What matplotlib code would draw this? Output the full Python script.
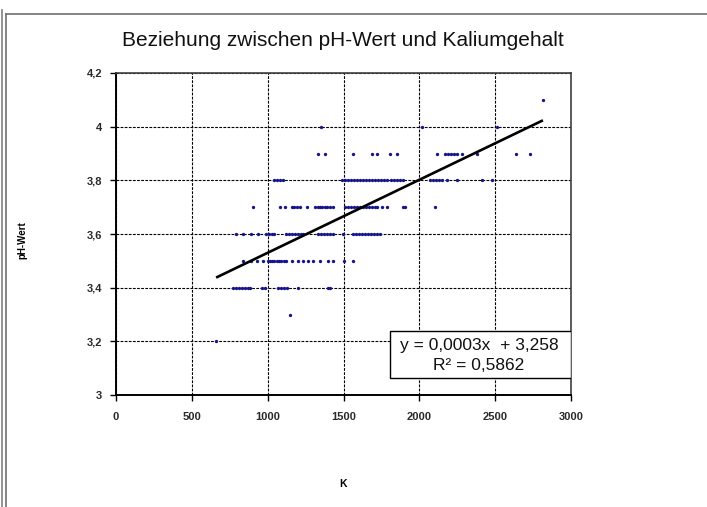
import matplotlib
matplotlib.use("Agg")
import matplotlib.pyplot as plt
from matplotlib.patches import Rectangle
from matplotlib.lines import Line2D
import numpy as np

plt.rcParams['font.family'] = ['Liberation Sans', 'DejaVu Sans']

# Data: K values per pH row
ph_values = [3.2, 3.3, 3.4, 3.5, 3.6, 3.7, 3.8, 3.9, 4.0, 4.1]
k_32 = [660]
k_33 = [1150]
k_34 = [770, 790, 810, 830, 850, 870, 885, 965, 980, 1070, 1090, 1110, 1130, 1200, 1395, 1410]
k_35 = [840, 890, 930, 970, 1000, 1015, 1030, 1045, 1060, 1075, 1090, 1105, 1120, 1160,
        1200, 1235, 1265, 1300, 1345, 1395, 1430, 1500, 1565]
k_36 = [790, 840, 890, 935, 990, 1010, 1030, 1045, 1120, 1140, 1160, 1180, 1200, 1220, 1235,
        1330, 1350, 1370, 1390, 1410, 1430, 1495, 1560, 1580, 1600, 1620, 1640, 1660, 1680,
        1700, 1720, 1740]
k_37 = [905, 1080, 1115, 1160, 1175, 1195, 1215, 1260, 1315, 1330, 1345, 1360, 1375, 1390,
        1410, 1430, 1510, 1530, 1550, 1570, 1590, 1610, 1630, 1650, 1670, 1690, 1705, 1720,
        1755, 1785, 1890, 1905, 2100]
k_38 = [1040, 1060, 1080, 1100, 1490, 1510, 1530, 1550, 1570, 1590, 1610, 1630, 1650, 1670,
        1690, 1710, 1730, 1750, 1770, 1790, 1810, 1830, 1850, 1870, 1890, 2070, 2090, 2110,
        2130, 2150, 2180, 2250, 2410, 2480]
k_39 = [1330, 1380, 1560, 1690, 1720, 1805, 1850, 2115, 2170, 2190, 2210, 2230, 2250, 2280,
        2380, 2640, 2730]
k_40 = [1350, 2020, 2510]
k_41 = [2815]
k_rows = [k_32, k_33, k_34, k_35, k_36, k_37, k_38, k_39, k_40, k_41]

# Trendline (as drawn in the chart)
trend_slope = 0.000272
trend_intercept = 3.258
eq_text = "y = 0,0003x  + 3,258"
r2_text = "R² = 0,5862"

x_ticks = [0, 500, 1000, 1500, 2000, 2500, 3000]
y_ticks = [3.0, 3.2, 3.4, 3.6, 3.8, 4.0, 4.2]
y_ticklabels = ["3", "3,2", "3,4", "3,6", "3,8", "4", "4,2"]

W, H = 707, 507
fig = plt.figure(figsize=(W / 100, H / 100), dpi=100)
fig.patch.set_facecolor('white')

# chart frame lines
fig.add_artist(Line2D([1.5 / W, 1.5 / W], [0, 1 - 10 / H], transform=fig.transFigure, color='#808080', lw=1.2))
fig.add_artist(Line2D([6 / W, 6 / W], [0, 1 - 14 / H], transform=fig.transFigure, color='#707070', lw=1.2))
fig.add_artist(Line2D([6 / W, 1], [1 - 14 / H, 1 - 14 / H], transform=fig.transFigure, color='#707070', lw=1.2))

ax = fig.add_axes([116 / W, 1 - 395 / H, (571 - 116) / W, (395 - 73) / H])

xs, ys = [], []
for ph, row in zip(ph_values, k_rows):
    xs.extend(row)
    ys.extend([ph] * len(row))
xs = np.array(xs)
ys = np.array(ys)
ax.plot(xs, ys, linestyle='none', marker='o', markersize=2.4, markeredgewidth=0,
        color='#14148c', zorder=3)

xl = np.array([xs.min(), xs.max()])
ax.plot(xl, trend_slope * xl + trend_intercept, color='black', lw=1.9, zorder=4,
        solid_capstyle='butt')

ax.set_xlim(0, 3000)
ax.set_ylim(3.0, 4.2)
ax.set_xticks(x_ticks)
ax.set_xticklabels([str(t) for t in x_ticks])
ax.set_yticks(y_ticks)
ax.set_yticklabels(y_ticklabels)
ax.tick_params(axis='both', direction='out', length=4, width=1, labelsize=8, colors='black')
for lab in ax.get_xticklabels() + ax.get_yticklabels():
    lab.set_fontweight('bold')
    lab.set_color('#2a2a2a')
ax.tick_params(axis='x', pad=8)
ax.tick_params(axis='y', pad=6)
ax.grid(True, color='black', linestyle=(0, (2.5, 1.2)), linewidth=0.8, zorder=1)
ax.set_axisbelow(True)
for side in ['left', 'bottom']:
    ax.spines[side].set_color('black')
    ax.spines[side].set_linewidth(1.4)
for side in ['top', 'right']:
    ax.spines[side].set_color('#404040')
    ax.spines[side].set_linewidth(1.2)

# equation box
box = Rectangle((0.602, 0.053), 0.398, 0.146, transform=ax.transAxes, facecolor='white',
                edgecolor='black', lw=1.0, zorder=5)
ax.add_patch(box)
ax.text(0.798, 0.155, eq_text, transform=ax.transAxes, ha='center', va='center',
        fontsize=12.5, color='#111111', zorder=6)
ax.text(0.798, 0.093, r2_text, transform=ax.transAxes, ha='center', va='center',
        fontsize=12.5, color='#111111', zorder=6)

fig.text(343 / W, 1 - 40 / H, "Beziehung zwischen pH-Wert und Kaliumgehalt",
         ha='center', va='center', fontsize=15, color='#111111')
fig.text(343 / W, 1 - 484 / H, "K", ha='center', va='center', fontsize=7.5, fontweight='bold')
fig.text(22 / W, 1 - 240 / H, "pH-Wert", ha='center', va='center', fontsize=7,
         fontweight='bold', rotation=90)

fig.savefig("out.png", dpi=100)
